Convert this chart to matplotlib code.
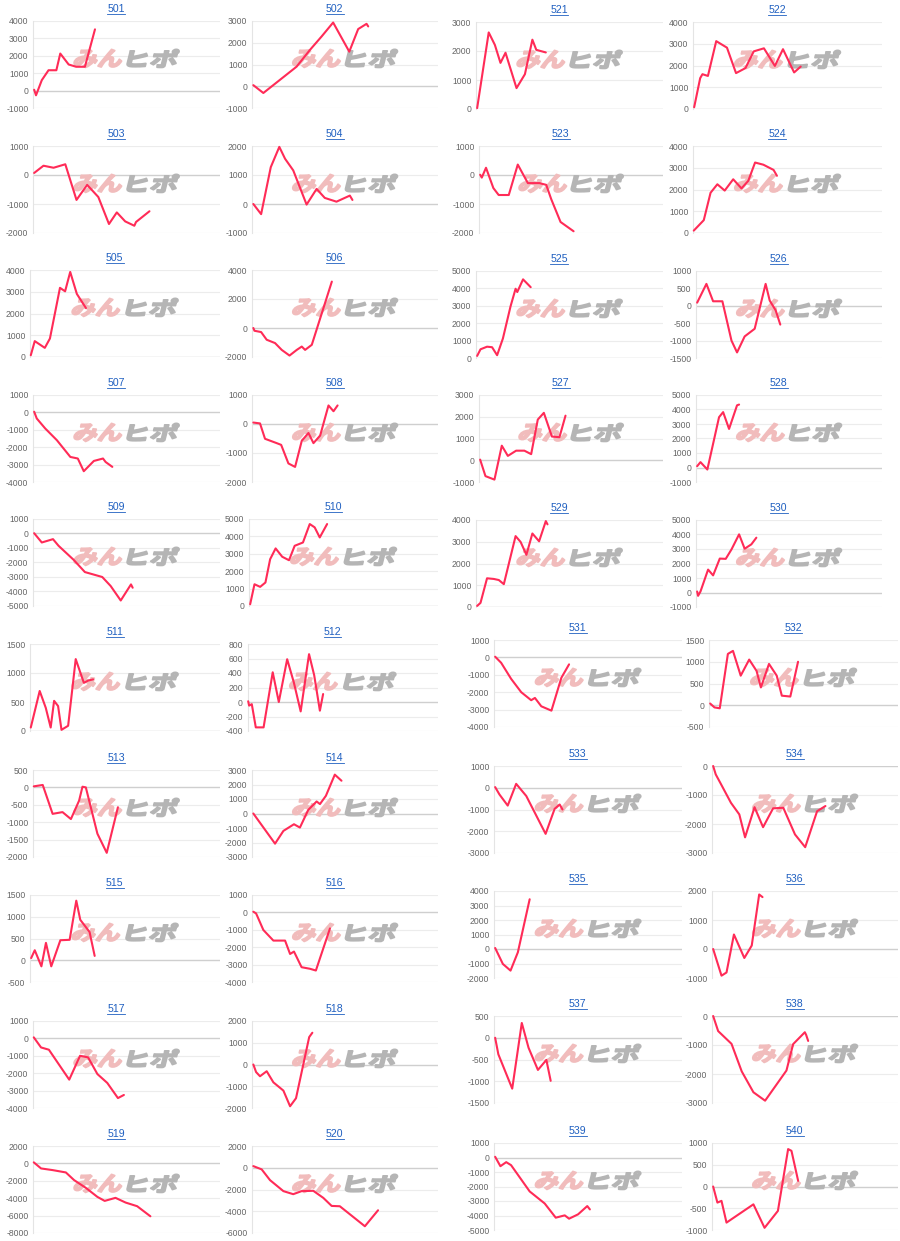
import numpy as np
import matplotlib.pyplot as plt
from matplotlib.textpath import TextPath
from matplotlib.patches import PathPatch
from matplotlib.font_manager import FontProperties
from matplotlib.transforms import Affine2D, IdentityTransform
from matplotlib.lines import Line2D

# x = position along the game axis (0..100), y = 差枚
x501 = [0.4, 1.4, 4.5, 8.1, 12.3, 14.4, 18.9, 22.9, 27.6, 33.0]
y501 = [50, -270, 600, 1170, 1170, 2130, 1500, 1370, 1370, 3520]
x502 = [0.5, 5.9, 23.8, 31.0, 37.3, 43.5, 52.2, 57.0, 61.5, 62.4]
y502 = [50, -310, 900, 1670, 2290, 2930, 1590, 2630, 2870, 2750]
x503 = [0.4, 5.4, 10.8, 17.1, 23.1, 28.8, 34.8, 40.5, 44.7, 49.2, 54.1, 55.0, 62.2]
y503 = [70, 320, 250, 370, -860, -340, -760, -1690, -1290, -1600, -1750, -1620, -1250]
x504 = [0.5, 4.7, 9.9, 14.5, 17.6, 22.0, 29.2, 34.6, 39.0, 45.3, 52.5, 53.9]
y504 = [0, -350, 1270, 1970, 1560, 1160, -20, 520, 210, 80, 290, 140]
x505 = [0.2, 2.3, 7.6, 10.3, 15.6, 18.3, 21.0, 24.5, 29.3]
y505 = [80, 730, 420, 850, 3180, 3020, 3910, 2900, 2250]
x506 = [0.5, 1.1, 4.7, 7.7, 12.2, 15.8, 20.0, 23.9, 26.6, 28.4, 32.0, 42.8]
y506 = [0, -190, -280, -810, -1040, -1510, -1900, -1510, -1280, -1510, -1160, 3200]
x507 = [0.4, 1.8, 6.3, 12.6, 19.8, 23.8, 27.0, 32.4, 37.3, 38.7, 42.3]
y507 = [40, -350, -920, -1600, -2560, -2650, -3380, -2790, -2650, -2850, -3130]
x508 = [0.5, 4.1, 6.8, 13.1, 15.5, 19.4, 23.0, 26.6, 30.2, 32.9, 36.5, 41.0, 43.7, 45.9]
y508 = [50, 20, -510, -660, -720, -1360, -1480, -580, -310, -660, -400, 640, 440, 640]
x509 = [0.4, 4.5, 10.5, 13.5, 21.6, 27.6, 36.9, 41.4, 46.8, 52.3, 53.2]
y509 = [20, -620, -390, -850, -1820, -2660, -3000, -3620, -4620, -3510, -3740]
x510 = [0.4, 2.7, 5.7, 8.5, 11.0, 13.9, 17.4, 21.0, 24.0, 28.4, 32.0, 34.6, 37.3, 41.2]
y510 = [100, 1250, 1100, 1350, 2690, 3310, 2830, 2630, 3460, 3650, 4710, 4520, 3940, 4710]
x511 = [0.2, 4.9, 8.1, 10.7, 12.5, 14.6, 16.4, 19.9, 23.9, 28.2, 30.5, 33.1]
y511 = [60, 690, 400, 60, 520, 430, 20, 90, 1240, 830, 870, 890]
x512 = [0.2, 0.7, 2.1, 4.2, 8.3, 13.1, 16.3, 20.7, 24.2, 27.8, 32.2, 34.9, 37.9, 39.6]
y512 = [10, -50, -30, -350, -350, 410, 0, 590, 270, -130, 660, 370, -120, 110]
x513 = [0.2, 5.0, 10.3, 15.6, 20.1, 24.5, 26.3, 28.1, 34.3, 39.3, 45.3]
y513 = [30, 70, -760, -710, -910, -380, 20, 0, -1330, -1880, -570]
x514 = [0.5, 12.2, 16.7, 22.4, 25.6, 30.1, 34.6, 36.4, 39.6, 44.4, 48.0]
y514 = [0, -2080, -1200, -740, -970, 250, 830, 650, 1220, 2680, 2260]
x515 = [0.4, 2.3, 5.8, 8.2, 11.0, 15.8, 20.7, 24.2, 26.3, 31.2, 33.9]
y515 = [50, 230, -140, 400, -140, 460, 470, 1370, 930, 650, 100]
x516 = [0.5, 2.0, 5.9, 11.3, 17.6, 20.3, 22.4, 26.5, 31.0, 34.2, 41.8]
y516 = [40, -60, -1010, -1620, -1620, -2390, -2250, -3150, -3240, -3340, -920]
x517 = [0.2, 4.1, 8.3, 19.2, 25.0, 29.3, 34.3, 39.6, 45.3, 48.5]
y517 = [60, -520, -650, -2370, -1000, -1090, -2050, -2560, -3430, -3250]
x518 = [0.5, 2.0, 4.1, 7.7, 11.3, 16.7, 20.3, 23.5, 30.6, 32.3]
y518 = [0, -350, -540, -310, -820, -1200, -1920, -1550, 1260, 1460]
x519 = [0.2, 4.1, 10.3, 17.4, 21.8, 28.1, 34.3, 38.2, 44.0, 49.4, 55.6, 62.7]
y519 = [120, -580, -770, -1040, -1920, -2810, -3850, -4310, -3960, -4500, -4920, -6080]
x520 = [0.5, 5.0, 9.5, 16.7, 22.0, 26.5, 32.8, 38.2, 42.7, 47.1, 54.3, 60.6, 67.7]
y520 = [150, -150, -1140, -2150, -2430, -2150, -2120, -2770, -3510, -3540, -4520, -5380, -3910]
x521 = [0.4, 6.6, 9.9, 12.9, 15.6, 21.5, 26.0, 30.0, 32.1, 37.2]
y521 = [30, 2640, 2210, 1590, 1940, 720, 1200, 2390, 2040, 1950]
x522 = [0.4, 3.6, 4.8, 7.7, 12.1, 17.8, 22.6, 27.6, 32.0, 37.4, 43.2, 47.5, 53.4, 56.9]
y522 = [80, 1420, 1600, 1520, 3120, 2820, 1650, 1880, 2650, 2790, 1980, 2750, 1680, 1950]
x523 = [0.4, 1.3, 3.6, 7.6, 10.5, 16.0, 20.9, 26.4, 32.7, 36.4, 39.1, 44.2, 51.3]
y523 = [10, -90, 250, -450, -690, -690, 360, -280, -280, -340, -830, -1620, -1940]
x524 = [0.2, 5.5, 9.1, 12.7, 16.6, 21.1, 25.5, 29.1, 32.7, 37.1, 42.5, 44.3]
y524 = [110, 590, 1850, 2240, 1950, 2470, 2050, 2400, 3240, 3140, 2900, 2630]
x525 = [0.4, 2.2, 5.7, 8.4, 11.1, 14.2, 18.3, 21.0, 21.9, 25.0, 29.1]
y525 = [120, 500, 650, 620, 160, 1120, 2970, 3980, 3790, 4520, 4070]
x526 = [0.4, 5.4, 9.0, 14.0, 18.9, 21.9, 26.0, 31.4, 37.3, 39.5, 42.7, 45.2]
y526 = [90, 630, 130, 130, -1000, -1340, -880, -660, 630, 150, -130, -540]
x527 = [0.4, 3.3, 8.2, 12.2, 15.5, 20.0, 24.5, 28.2, 31.8, 35.1, 39.5, 43.6, 46.9]
y527 = [30, -730, -890, 670, 200, 440, 440, 280, 1870, 2180, 1090, 1060, 2050]
x528 = [0.4, 2.2, 5.9, 12.2, 14.4, 17.6, 21.9, 23.0]
y528 = [90, 370, -140, 3470, 3820, 2660, 4290, 4340]
x529 = [0.4, 2.2, 5.7, 9.3, 12.0, 14.7, 21.0, 23.7, 26.8, 30.0, 33.6, 37.2, 38.1]
y529 = [50, 190, 1320, 1290, 1240, 1050, 3260, 2990, 2400, 3380, 3020, 3950, 3800]
x530 = [0.4, 0.9, 2.2, 6.3, 9.0, 12.6, 15.8, 18.9, 23.0, 26.0, 29.6, 32.3]
y530 = [70, -230, 70, 1580, 1180, 2340, 2320, 2970, 4010, 3020, 3320, 3780]
x531 = [0.4, 3.6, 8.9, 14.3, 19.6, 21.6, 25.0, 30.4, 35.7, 39.8]
y531 = [40, -310, -1230, -2000, -2460, -2330, -2810, -3060, -1170, -400]
x532 = [0.4, 2.7, 5.5, 9.8, 12.5, 16.6, 21.1, 25.0, 27.3, 31.6, 35.7, 38.4, 42.9, 47.0]
y532 = [40, -50, -70, 1180, 1250, 680, 1050, 790, 410, 950, 680, 220, 200, 1000]
x533 = [0.4, 2.7, 7.1, 11.6, 17.0, 27.3, 32.1, 34.8, 36.3]
y533 = [30, -310, -820, 180, -380, -2120, -970, -770, -1000]
x534 = [0.4, 1.8, 4.5, 10.0, 14.5, 17.6, 22.7, 27.3, 32.7, 38.2, 44.5, 50.0, 56.4, 60.9]
y534 = [0, -290, -610, -1270, -1670, -2460, -1420, -2110, -1460, -1440, -2360, -2800, -1560, -1380]
x535 = [0.4, 4.5, 8.6, 12.5, 18.8]
y535 = [70, -1030, -1490, -230, 3430]
x536 = [0.4, 4.9, 7.6, 11.6, 17.2, 21.2, 25.2, 27.0]
y536 = [0, -920, -810, 500, -310, 120, 1880, 1790]
x537 = [0.4, 2.1, 9.5, 14.6, 18.2, 23.2, 27.7, 30.0]
y537 = [0, -380, -1170, 340, -230, -740, -510, -990]
x538 = [0.4, 3.1, 10.3, 15.8, 22.1, 28.4, 39.9, 43.5, 49.8, 50.5, 51.6]
y538 = [0, -520, -960, -1910, -2630, -2920, -1880, -970, -560, -650, -860]
x539 = [0.4, 3.2, 6.3, 8.9, 18.8, 26.8, 32.7, 37.5, 39.8, 44.6, 49.5, 50.9]
y539 = [50, -600, -320, -530, -2340, -3170, -4150, -3990, -4220, -3920, -3350, -3580]
x540 = [0.4, 2.7, 4.9, 7.6, 22.1, 28.1, 35.3, 40.8, 42.6, 46.2]
y540 = [0, -370, -330, -830, -410, -950, -560, 860, 820, 130]

machines = list(range(501, 541))
xdata = [x501, x502, x503, x504, x505, x506, x507, x508, x509, x510,
         x511, x512, x513, x514, x515, x516, x517, x518, x519, x520,
         x521, x522, x523, x524, x525, x526, x527, x528, x529, x530,
         x531, x532, x533, x534, x535, x536, x537, x538, x539, x540]
ydata = [y501, y502, y503, y504, y505, y506, y507, y508, y509, y510,
         y511, y512, y513, y514, y515, y516, y517, y518, y519, y520,
         y521, y522, y523, y524, y525, y526, y527, y528, y529, y530,
         y531, y532, y533, y534, y535, y536, y537, y538, y539, y540]
# (min, max, step) of the vertical axis
yranges = [(-1000, 4000, 1000), (-1000, 3000, 1000), (-2000, 1000, 1000), (-1000, 2000, 1000),
           (0, 4000, 1000), (-2000, 4000, 2000), (-4000, 1000, 1000), (-2000, 1000, 1000),
           (-5000, 1000, 1000), (0, 5000, 1000), (0, 1500, 500), (-400, 800, 200),
           (-2000, 500, 500), (-3000, 3000, 1000), (-500, 1500, 500), (-4000, 1000, 1000),
           (-4000, 1000, 1000), (-2000, 2000, 1000), (-8000, 2000, 2000), (-6000, 2000, 2000),
           (0, 3000, 1000), (0, 4000, 1000), (-2000, 1000, 1000), (0, 4000, 1000),
           (0, 5000, 1000), (-1500, 1000, 500), (-1000, 3000, 1000), (-1000, 5000, 1000),
           (0, 4000, 1000), (-1000, 5000, 1000), (-4000, 1000, 1000), (-500, 1500, 500),
           (-3000, 1000, 1000), (-3000, 0, 1000), (-2000, 4000, 1000), (-1000, 2000, 1000),
           (-1500, 500, 500), (-3000, 0, 1000), (-5000, 1000, 1000), (-1000, 1000, 500)]

W, H = 900, 1241
fig = plt.figure(figsize=(W / 100, H / 100), dpi=100)
fig.patch.set_facecolor('white')

tops_a = [21, 146, 270, 395, 519, 644, 770, 895, 1021, 1146]
tops_b = [22, 146, 271, 395, 520, 640, 766, 891, 1016, 1143]
tick_font = 'Liberation Sans'
wm_prop = FontProperties(family='Noto Sans CJK JP', weight='bold')


def label_width(s):
    return sum(3.0 if c == '-' else 4.6 for c in s)


def logo(ax, text, cx, cy, w, h, color):
    tp = TextPath((0, 0), text, size=20, prop=wm_prop)
    bb = tp.get_extents()
    tr = (Affine2D().translate(-(bb.x0 + bb.x1) / 2, -(bb.y0 + bb.y1) / 2)
          .scale(w / bb.width, h / bb.height).skew_deg(14, 0)
          .translate(cx, H - cy))
    p = PathPatch(tp, facecolor=color, edgecolor=color, lw=1.3, joinstyle='round',
                  transform=tr + IdentityTransform(), zorder=1.5, clip_on=False)
    ax.add_artist(p)


for i, n in enumerate(machines):
    if n <= 520:
        col, row = (n - 501) % 2, (n - 501) // 2
        top = tops_a[row]
    else:
        col, row = 2 + (n - 521) % 2, (n - 521) // 2
        top = tops_b[row]
    lo, hi, step = yranges[i]
    ticks = np.arange(lo, hi + step / 2, step)
    labels = [str(int(t)) for t in ticks]
    lab_left = [7, 226, 453 if row < 5 else 468, 670 if row < 5 else 686][col]
    right = [220, 438, 663 if row < 5 else 682, 882 if row < 5 else 898][col]
    left = lab_left + max(label_width(s) for s in labels) + 5
    h = 87
    ax = fig.add_axes([left / W, 1 - (top + h) / H, (right - left) / W, h / H])
    ax.set_xlim(0, 100)
    ax.set_ylim(lo, hi)
    ax.set_yticks(ticks)
    ax.set_yticklabels(labels, fontsize=6.2, color='#666666', family=tick_font)
    ax.set_xticks([])
    ax.tick_params(axis='y', length=0, pad=3.6)
    for s in ['top', 'right', 'bottom']:
        ax.spines[s].set_visible(False)
    ax.spines['left'].set_color('#e4e4e4')
    ax.spines['left'].set_linewidth(0.8)
    for t in ticks:
        if t == 0:
            ax.axhline(0, color='#cfcfcf', lw=1.0, zorder=1)
        else:
            ax.axhline(t, color='#ececec', lw=0.8, zorder=1)
    ax.plot(xdata[i], ydata[i], color='#ff2b57', lw=1.5, zorder=3,
            solid_joinstyle='round', solid_capstyle='round', clip_on=False)

    # watermark
    pw = right - left
    wy = top + 0.43 * h
    logo(ax, 'みん', left + 0.35 * pw, wy, 47, 18, '#f1bcbc')
    logo(ax, 'ヒポ', left + 0.64 * pw, wy, 49, 18, '#b5b5b5')

    # title with underline
    cx = (left + right) / 2 - 10.5
    ty = top - 12
    fig.text(cx / W, 1 - ty / H, str(n), ha='center', va='center',
             fontsize=7.6, color='#1f5fc0', family=tick_font)
    fig.add_artist(Line2D([(cx - 8.8) / W, (cx + 8.8) / W],
                          [1 - (ty + 5.2) / H, 1 - (ty + 5.2) / H],
                          color='#1f5fc0', lw=0.6))

plt.savefig('out.png', dpi=100, facecolor='white')
